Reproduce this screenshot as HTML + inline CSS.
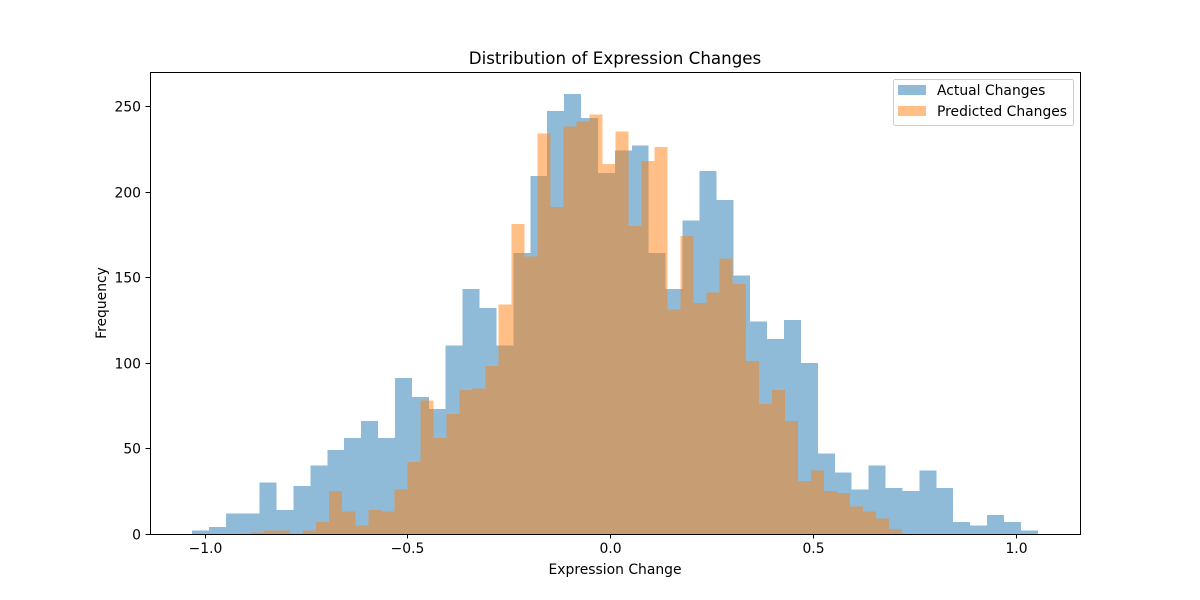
<!DOCTYPE html>
<html><head><meta charset="utf-8"><style>
body{margin:0;background:#fff;}
svg{display:block;font-family:"DejaVu Sans","Liberation Sans",sans-serif;}
</style></head><body>
<svg id="chart" width="1200" height="600" viewBox="0 0 1200 600">
<rect x="0" y="0" width="1200" height="600" fill="#fff"/>
<g id="bars"></g>
<rect x="150.5" y="72.5" width="930" height="462" fill="none" stroke="#000" stroke-width="1"/>
<g id="xticks"></g>
<g id="yticks"></g>
<text x="615" y="64" text-anchor="middle" font-size="16.7">Distribution of Expression Changes</text>
<text x="615" y="574" text-anchor="middle" font-size="13.9">Expression Change</text>
<text x="106" y="303" text-anchor="middle" font-size="13.9" transform="rotate(-90 106 303)">Frequency</text>
<g>
<rect x="893.5" y="79.5" width="180" height="46" rx="2" fill="#fff" fill-opacity="0.8" stroke="#ccc"/>
<rect x="898" y="85" width="28" height="10" fill="#1f77b4" fill-opacity="0.5"/>
<text x="937" y="95" font-size="13.9">Actual Changes</text>
<rect x="898" y="106" width="28" height="10" fill="#ff7f0e" fill-opacity="0.5"/>
<text x="937" y="116" font-size="13.9">Predicted Changes</text>
</g>
</svg>
<script>
const actualStart = -1.031;
const actualEnd = 1.055;
const actualCounts = [2,4,12,12,30,14,28,40,49,56,66,56,91,80,73,110,143,132,110,164,209,247,257,243,211,224,227,164,143,183,212,195,151,124,114,125,100,47,36,26,40,27,25,37,27,7,5,11,7,2];
const predictedStart = -0.885;
const predictedEnd = 0.720;
const predictedCounts = [1,2,2,0,2,7,25,13,5,14,13,26,42,78,56,70,84,85,98,134,181,162,234,191,238,241,245,216,235,180,218,226,131,174,135,141,161,146,101,76,84,66,31,37,25,24,16,13,9,3];
const xTicks = [-1.0,-0.5,0.0,0.5,1.0];
const xTickLabels = ["\u22121.0","\u22120.5","0.0","0.5","1.0"];
const yTicks = [0,50,100,150,200,250];

const NS = "http://www.w3.org/2000/svg";
function xs(v){ return 610 + 405.5*v; }
function ys(v){ return 534 - 1.712*v; }

const barsG = document.getElementById('bars');
function drawHist(start, end, counts, color, name){
  const w = (end-start)/counts.length;
  counts.forEach((c,i)=>{
    if(c<=0) return;
    const x0 = xs(start+i*w), x1 = xs(start+(i+1)*w);
    const r = document.createElementNS(NS,'rect');
    r.setAttribute('x', x0);
    r.setAttribute('y', ys(c));
    r.setAttribute('width', x1-x0);
    r.setAttribute('height', ys(0)-ys(c));
    r.setAttribute('fill', color);
    r.setAttribute('fill-opacity', '0.5');
    r.setAttribute('shape-rendering','crispEdges');
    
    
    barsG.appendChild(r);
  });
}
drawHist(actualStart, actualEnd, actualCounts, '#1f77b4', 'actual');
drawHist(predictedStart, predictedEnd, predictedCounts, '#ff7f0e', 'predicted');

const xg = document.getElementById('xticks');
xTicks.forEach((t,i)=>{
  const x = Math.round(xs(t))+0.5;
  const l = document.createElementNS(NS,'line');
  l.setAttribute('x1',x); l.setAttribute('x2',x);
  l.setAttribute('y1',534); l.setAttribute('y2',538.5);
  l.setAttribute('stroke','#000');
  
  
  xg.appendChild(l);
  const tx = document.createElementNS(NS,'text');
  tx.setAttribute('x',x); tx.setAttribute('y',553);
  tx.setAttribute('text-anchor','middle'); tx.setAttribute('font-size','13.9');
  tx.textContent = xTickLabels[i];
  
  
  xg.appendChild(tx);
});
const yg = document.getElementById('yticks');
yTicks.forEach(t=>{
  const y = Math.round(ys(t))+0.5;
  const l = document.createElementNS(NS,'line');
  l.setAttribute('x1',145.5); l.setAttribute('x2',150);
  l.setAttribute('y1',y); l.setAttribute('y2',y);
  l.setAttribute('stroke','#000');
  
  
  yg.appendChild(l);
  const tx = document.createElementNS(NS,'text');
  tx.setAttribute('x',141); tx.setAttribute('y',y+5);
  tx.setAttribute('text-anchor','end'); tx.setAttribute('font-size','13.9');
  tx.textContent = String(t);
  
  
  yg.appendChild(tx);
});
</script>
</body></html>
